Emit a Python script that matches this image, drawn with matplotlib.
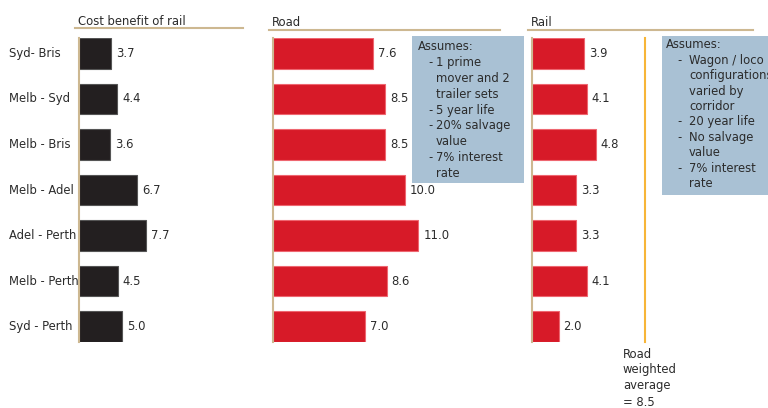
import matplotlib.pyplot as plt
from matplotlib import font_manager
from matplotlib.lines import Line2D
from matplotlib.patches import Rectangle

# pick the narrowest regular sans face that is installed
rank = {'ultra-condensed': 0, 'extra-condensed': 1, 'condensed': 2, 'semi-condensed': 3}
narrow = None
for f in font_manager.fontManager.ttflist:
    name = f.name.lower()
    if f.style != 'normal' or f.weight not in (400, 'normal', 'regular'):
        continue
    if 'mono' in name or 'serif' in name and 'sans' not in name:
        continue
    if f.stretch in rank:
        r = rank[f.stretch] + (0 if 'noto sans' in name else 0.5)
        if narrow is None or r < narrow[2]:
            narrow = (f.name, f.stretch, r)

if narrow:
    plt.rcParams['font.family'] = [narrow[0], 'DejaVu Sans']
    plt.rcParams['font.stretch'] = narrow[1]
    FS = 9.3
else:
    plt.rcParams['font.family'] = ['Liberation Sans', 'DejaVu Sans']
    FS = 8

routes = ['Syd- Bris', 'Melb - Syd', 'Melb - Bris', 'Melb - Adel',
          'Adel - Perth', 'Melb - Perth', 'Syd - Perth']
cost_benefit = [3.7, 4.4, 3.6, 6.7, 7.7, 4.5, 5.0]
road = [7.6, 8.5, 8.5, 10.0, 11.0, 8.6, 7.0]
rail = [3.9, 4.1, 4.8, 3.3, 3.3, 4.1, 2.0]
road_avg = 8.5

road_notes = [('', 'Assumes:'), ('-', '1 prime'), ('', 'mover and 2'), ('', 'trailer sets'),
              ('-', '5 year life'), ('-', '20% salvage'), ('', 'value'),
              ('-', '7% interest'), ('', 'rate')]
rail_notes = [('', 'Assumes:'), ('-', 'Wagon / loco'), ('', 'configurations'),
              ('', 'varied by'), ('', 'corridor'), ('-', '20 year life'),
              ('-', 'No salvage'), ('', 'value'), ('-', '7% interest'), ('', 'rate')]

W, H = 768, 408
RED = '#d71a28'
DARK = '#231f20'
TAN = '#cdb891'
BOX = '#a9c1d4'
ORANGE = '#f7b538'
TXT = '#2b2b2b'


def px(x, y):
    return x / W, 1 - y / H


fig = plt.figure(figsize=(W / 100, H / 100), dpi=100)
fig.patch.set_facecolor('white')

top, bottom = 38, 342
ypos = list(range(len(routes)))


def panel(left, width, scale, values, color, edge, title, line_y, line_end):
    ax = fig.add_axes([left / W, 1 - bottom / H, width / W, (bottom - top) / H])
    ax.barh(ypos, values, height=0.68, color=color, edgecolor=edge, linewidth=0.8)
    ax.set_xlim(0, width / scale)
    ax.set_ylim(6.34, -0.34)
    for s in ['top', 'right', 'bottom']:
        ax.spines[s].set_visible(False)
    ax.spines['left'].set_color(TAN)
    ax.spines['left'].set_linewidth(1.5)
    ax.set_xticks([])
    ax.set_yticks([])
    for y, v in zip(ypos, values):
        ax.text(v + 5 / scale, y, f'{v:.1f}', va='center', ha='left',
                fontsize=FS, color=TXT)
    fig.text(*px(left - 1, line_y - 3), title, fontsize=FS, color=TXT, va='baseline')
    fig.add_artist(Line2D([(left - 4) / W, line_end / W], [1 - line_y / H] * 2,
                          color=TAN, lw=1.5))
    return ax


ax1 = panel(79, 164, 8.65, cost_benefit, DARK, '#555555', 'Cost benefit of rail', 28, 243)
ax2 = panel(273, 227, 13.2, road, RED, '#ee6670', 'Road', 29.5, 500)
ax3 = panel(532, 221, 13.3, rail, RED, '#ee6670', 'Rail', 29.5, 753)

for y, r in zip(ypos, routes):
    ax1.text(-70 / 8.65, y, r, va='center', ha='left', fontsize=FS, color=TXT,
             clip_on=False)

# road weighted average marker on the rail scale
ax3.plot([road_avg, road_avg], [-0.34, 6.34], color=ORANGE, lw=1.5, clip_on=False)
for i, line in enumerate(['Road', 'weighted', 'average', '= 8.5']):
    fig.text(*px(623, 354 + 16 * i), line, fontsize=FS, color=TXT, va='center')


def note_box(x0, y0, x1, y1, notes, xa, xd, xt, ys, step):
    fig.add_artist(Rectangle(px(x0, y1), (x1 - x0) / W, (y1 - y0) / H,
                             transform=fig.transFigure, facecolor=BOX,
                             edgecolor='none'))
    for i, (dash, txt) in enumerate(notes):
        y = ys + step * i
        if i == 0:
            fig.text(*px(xa, y), txt, fontsize=FS, color=TXT, va='center')
            continue
        if dash:
            fig.text(*px(xd, y), dash, fontsize=FS, color=TXT, va='center')
        fig.text(*px(xt, y), txt, fontsize=FS, color=TXT, va='center')


note_box(412, 36, 524, 183, road_notes, 418, 428, 436, 47, 15.8)
note_box(662, 36, 770, 195, rail_notes, 666, 677, 689, 45, 15.4)

fig.savefig('out.png', dpi=100)
